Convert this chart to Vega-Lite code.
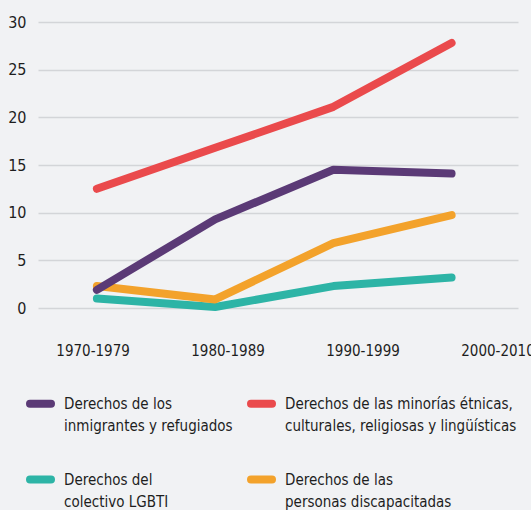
{
  "$schema": "https://vega.github.io/schema/vega-lite/v6.json",
  "autosize": {"type": "none"},
  "padding": {"left": 38, "top": 22, "right": 13, "bottom": 202},
  "width": 480,
  "height": 286,
  "background": "#f1f2f4",
  "config": {
    "view": {"stroke": null},
    "font": "DejaVu Sans Condensed, Roboto",
    "axis": {"labelColor": "#1e1e1e"},
    "legend": {"labelColor": "#1e1e1e"},
    "style": {"guide-label": {"lineHeight": 22}}
  },
  "data": {
    "values": [
      {"periodo": "1970-1979", "grupo": "Derechos de las minorías étnicas, culturales, religiosas y lingüísticas", "valor": 12.5},
      {"periodo": "1980-1989", "grupo": "Derechos de las minorías étnicas, culturales, religiosas y lingüísticas", "valor": 16.8},
      {"periodo": "1990-1999", "grupo": "Derechos de las minorías étnicas, culturales, religiosas y lingüísticas", "valor": 21.1},
      {"periodo": "2000-2010", "grupo": "Derechos de las minorías étnicas, culturales, religiosas y lingüísticas", "valor": 27.8},
      {"periodo": "1970-1979", "grupo": "Derechos del colectivo LGBTI", "valor": 1.0},
      {"periodo": "1980-1989", "grupo": "Derechos del colectivo LGBTI", "valor": 0.1},
      {"periodo": "1990-1999", "grupo": "Derechos del colectivo LGBTI", "valor": 2.3},
      {"periodo": "2000-2010", "grupo": "Derechos del colectivo LGBTI", "valor": 3.2},
      {"periodo": "1970-1979", "grupo": "Derechos de las personas discapacitadas", "valor": 2.3},
      {"periodo": "1980-1989", "grupo": "Derechos de las personas discapacitadas", "valor": 0.9},
      {"periodo": "1990-1999", "grupo": "Derechos de las personas discapacitadas", "valor": 6.8},
      {"periodo": "2000-2010", "grupo": "Derechos de las personas discapacitadas", "valor": 9.75},
      {"periodo": "1970-1979", "grupo": "Derechos de los inmigrantes y refugiados", "valor": 1.9},
      {"periodo": "1980-1989", "grupo": "Derechos de los inmigrantes y refugiados", "valor": 9.3},
      {"periodo": "1990-1999", "grupo": "Derechos de los inmigrantes y refugiados", "valor": 14.5},
      {"periodo": "2000-2010", "grupo": "Derechos de los inmigrantes y refugiados", "valor": 14.1}
    ]
  },
  "layer": [
    {
      "mark": {"type": "line", "strokeWidth": 8, "strokeCap": "round", "strokeJoin": "round"},
      "encoding": {
        "x": {"field": "periodo", "type": "ordinal", "sort": null,
              "scale": {"type": "point", "padding": 0.53, "align": 0.47}, "axis": null},
        "y": {"field": "valor", "type": "quantitative",
              "scale": {"domain": [0, 30], "nice": false},
              "axis": {"values": [0, 5, 10, 15, 20, 25, 30], "title": null, "domain": false, "ticks": false,
                       "labelPadding": 12, "labelFontSize": 16, "gridColor": "#d3d5d8", "gridWidth": 1.5}},
        "color": {"field": "grupo", "type": "nominal",
                  "scale": {"domain": ["Derechos de los inmigrantes y refugiados", "Derechos del colectivo LGBTI", "Derechos de las minorías étnicas, culturales, religiosas y lingüísticas", "Derechos de las personas discapacitadas"],
                            "range": ["#5b3a76", "#2db4a6", "#ea4a4c", "#f3a22b"]},
                  "legend": {"orient": "none", "legendX": -12, "legendY": 367, "columns": 2, "title": null,
                             "columnPadding": 8, "rowPadding": 31, "labelFontSize": 15, "labelOffset": 9,
                             "symbolType": "M-0.84,-0.16L0.84,-0.16A0.16,0.16,0,0,1,0.84,0.16L-0.84,0.16A0.16,0.16,0,0,1,-0.84,-0.16Z",
                             "symbolSize": 625, "symbolStrokeWidth": 4, "labelLimit": 400,
                             "labelExpr": "datum.value == 'Derechos de los inmigrantes y refugiados' ? ['Derechos de los', 'inmigrantes y refugiados'] : datum.value == 'Derechos del colectivo LGBTI' ? ['Derechos del', 'colectivo LGBTI'] : datum.value == 'Derechos de las personas discapacitadas' ? ['Derechos de las', 'personas discapacitadas'] : ['Derechos de las minorías étnicas,', 'culturales, religiosas y lingüísticas']"}}
      }
    },
    {
      "mark": {"type": "point", "opacity": 0},
      "encoding": {
        "x": {"field": "periodo", "type": "ordinal", "sort": null,
              "scale": {"type": "point", "padding": 0.278, "align": 0.727},
              "axis": {"orient": "bottom", "title": null, "domain": false, "ticks": false, "grid": false,
                       "labelPadding": 35, "labelFontSize": 15, "labelAngle": 0}},
        "y": {"field": "valor", "type": "quantitative"}
      }
    }
  ],
  "resolve": {"scale": {"x": "independent"}, "axis": {"x": "independent"}}
}
